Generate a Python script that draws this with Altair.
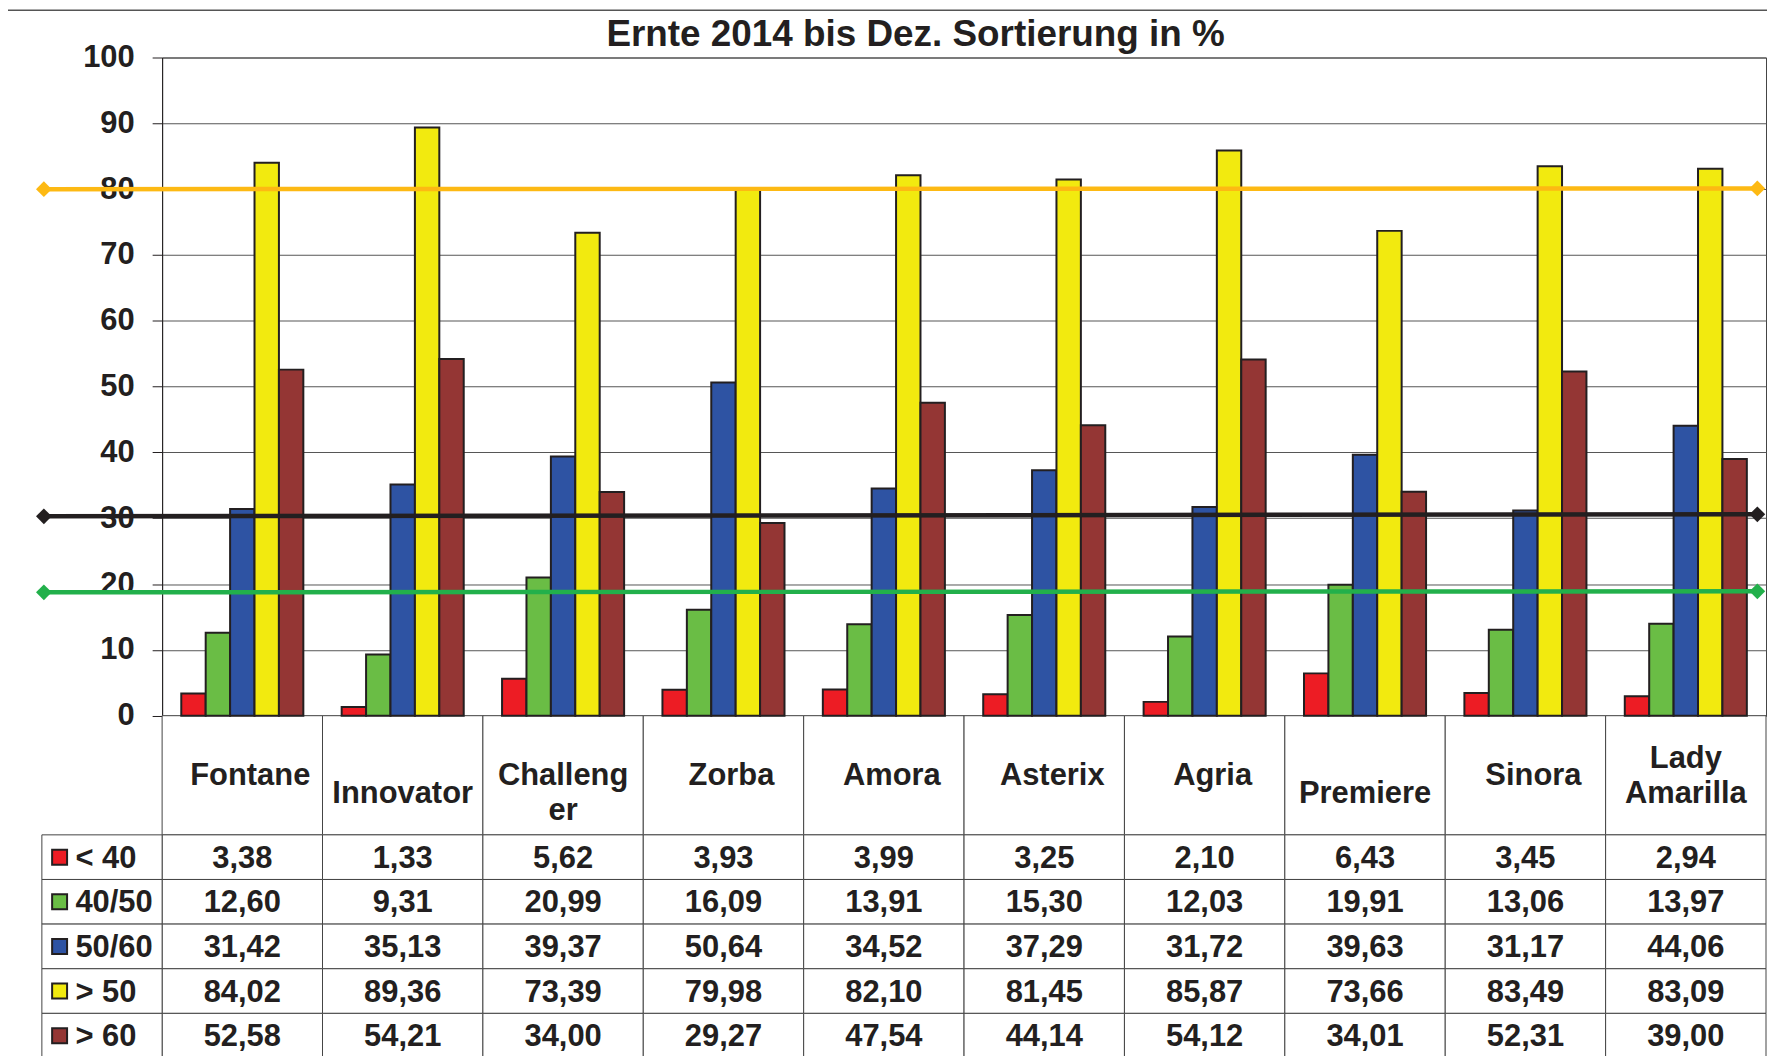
import altair as alt
import pandas as pd

# ---------------- data ----------------
categories = ["Fontane", "Innovator", "Challenger", "Zorba", "Amora",
              "Asterix", "Agria", "Premiere", "Sinora", "Lady Amarilla"]
# header text as wrapped in the table (empty lines included)
header_labels = ["Fontane", "\nInnovator", "\nChalleng\ner", "Zorba", "Amora",
                 "Asterix", "Agria", "\nPremiere", "Sinora", "Lady\nAmarilla"]
series = ["< 40", "40/50", "50/60", "> 50", "> 60"]
series_colors = ["#ed1c24", "#6abd45", "#2e53a3", "#f2ea0f", "#943634"]

v_lt40 = [3.38, 1.33, 5.62, 3.93, 3.99, 3.25, 2.10, 6.43, 3.45, 2.94]
v_40_50 = [12.60, 9.31, 20.99, 16.09, 13.91, 15.30, 12.03, 19.91, 13.06, 13.97]
v_50_60 = [31.42, 35.13, 39.37, 50.64, 34.52, 37.29, 31.72, 39.63, 31.17, 44.06]
v_gt50 = [84.02, 89.36, 73.39, 79.98, 82.10, 81.45, 85.87, 73.66, 83.49, 83.09]
v_gt60 = [52.58, 54.21, 34.00, 29.27, 47.54, 44.14, 54.12, 34.01, 52.31, 39.00]
series_values = [v_lt40, v_40_50, v_50_60, v_gt50, v_gt60]

ref_names = ["Linie 80", "Linie 30", "Linie 19"]
ref_left = [80.0, 30.3, 18.75]
ref_right = [80.1, 30.6, 18.9]
ref_colors = ["#fdb913", "#231f20", "#22b04b"]

title_text = "Ernte 2014 bis Dez. Sortierung in %"
y_ticks = [0, 10, 20, 30, 40, 50, 60, 70, 80, 90, 100]

# ---------------- tables ----------------
rows = []
for s, vals in zip(series, series_values):
    for c, v in zip(categories, vals):
        rows.append({"Sorte": c, "Sortierung": s, "Wert": v,
                     "Text": f"{v:.2f}".replace(".", ",")})
bars_df = pd.DataFrame(rows)

head_rows = []
for c, lab in zip(categories, header_labels):
    lines = lab.split("\n")
    n = len(lines)
    for i, t in enumerate(lines):
        if t:
            head_rows.append({"Sorte": c, "Zeile": t, "Slot": i - (n - 1) / 2,
                              "Einzeilig": n == 1})
header_df = pd.DataFrame(head_rows)
cat_df = pd.DataFrame({"Sorte": categories})
legend_df = pd.DataFrame({"Sortierung": series})
ref_rows = []
for n_, a, b in zip(ref_names, ref_left, ref_right):
    ref_rows.append({"Linie": n_, "Ende": "links", "Wert": a})
    ref_rows.append({"Linie": n_, "Ende": "rechts", "Wert": b})
ref_df = pd.DataFrame(ref_rows)

# ---------------- layout ----------------
W = 1610
H = 660.7
HEAD = 119.6
ROW = 44.8
LH = 35
FONT = "Liberation Sans"
DARK = "#231f20"
GRID = "#444444"

x_bar = alt.X("Sorte:N", sort=categories,
              scale=alt.Scale(domain=categories, paddingInner=0.239, paddingOuter=0.1195),
              axis=None)
x_tab = alt.X("Sorte:N", sort=categories,
              scale=alt.Scale(domain=categories, paddingInner=0, paddingOuter=0),
              axis=None)
y_row = alt.Y("Sortierung:N", sort=series,
              scale=alt.Scale(domain=series, range=[H + HEAD, H + HEAD + 5 * ROW],
                              paddingInner=0, paddingOuter=0),
              axis=None)
y_head = alt.Y("Slot:Q", scale=alt.Scale(domain=[-1, 1],
                                         range=[H + HEAD / 2 - LH, H + HEAD / 2 + LH]),
               axis=None)
series_color = alt.Color("Sortierung:N",
                         scale=alt.Scale(domain=series, range=series_colors),
                         legend=None)

frame = alt.Chart(pd.DataFrame({"r": [0]})).mark_rect(
    fill="transparent", stroke="#555555", strokeWidth=1.5
).encode(x=alt.value(-155.7), x2=alt.value(W + 40),
         y=alt.value(-47.4), y2=alt.value(H + 500))

header_cells = alt.Chart(cat_df).mark_rect(
    fill="white", stroke=GRID, strokeWidth=1
).encode(x=x_tab, y=alt.value(H), y2=alt.value(H + HEAD))

value_cells = alt.Chart(bars_df).mark_rect(
    fill="white", stroke=GRID, strokeWidth=1
).encode(x=x_tab, y=y_row)

legend_cells = alt.Chart(legend_df).mark_rect(
    fill="white", stroke=GRID, strokeWidth=1
).encode(x=alt.value(-120.7), x2=alt.value(0), y=y_row)

bars = alt.Chart(bars_df).mark_bar(stroke=DARK, strokeWidth=2).encode(
    x=x_bar,
    xOffset=alt.XOffset("Sortierung:N", sort=series,
                        scale=alt.Scale(domain=series, paddingInner=0, paddingOuter=0)),
    y=alt.Y("Wert:Q", scale=alt.Scale(domain=[0, 100], nice=False),
            axis=alt.Axis(values=y_ticks, title=None, grid=True, gridColor="#555555",
                          gridWidth=1, labelFont=FONT, labelFontSize=31,
                          labelFontWeight="bold", labelColor=DARK, labelPadding=18,
                          tickSize=10, tickColor=DARK, domainColor=DARK,
                          labelFlush=False)),
    color=series_color,
)

text_style = dict(font=FONT, fontSize=31, fontWeight="bold", color=DARK)

header_single = alt.Chart(header_df).transform_filter(
    "datum.Einzeilig"
).mark_text(baseline="middle", dx=8, dy=1, **text_style).encode(
    x=x_tab, y=y_head, text="Zeile:N")

header_multi = alt.Chart(header_df).transform_filter(
    "!datum.Einzeilig"
).mark_text(baseline="middle", dy=1, **text_style).encode(
    x=x_tab, y=y_head, text="Zeile:N")

value_text = alt.Chart(bars_df).mark_text(baseline="middle", dy=1.5, **text_style).encode(
    x=x_tab, y=y_row, text="Text:N")

legend_swatch = alt.Chart(legend_df).mark_square(
    size=225, stroke=DARK, strokeWidth=2, opacity=1
).encode(x=alt.value(-102.9), y=y_row, color=series_color)

legend_text = alt.Chart(legend_df).mark_text(
    align="left", baseline="middle", dy=1.5, **text_style
).encode(x=alt.value(-87), y=y_row, text="Sortierung:N")

x_ref = alt.X("Ende:N", scale=alt.Scale(type="point", domain=["links", "rechts"],
                                        range=[-118.7, 1601.3], padding=0), axis=None)
y_ref = alt.Y("Wert:Q", scale=alt.Scale(domain=[0, 100], nice=False), axis=None)
ref_color = alt.Color("Linie:N", scale=alt.Scale(domain=ref_names, range=ref_colors),
                      legend=None)

ref_lines = alt.Chart(ref_df).mark_line(strokeWidth=4.5).encode(
    x=x_ref, y=y_ref, color=ref_color, detail="Linie:N")
ref_points = alt.Chart(ref_df).mark_point(
    shape="diamond", filled=True, size=250, opacity=1
).encode(x=x_ref, y=y_ref, color=ref_color)

title = alt.Chart(pd.DataFrame({"Titel": [title_text]})).mark_text(
    align="center", baseline="alphabetic", font=FONT, fontSize=37,
    fontWeight="bold", color=DARK
).encode(x=alt.value(756.3), y=alt.value(-11.4), text="Titel:N")

chart = alt.layer(
    frame, header_cells, value_cells, legend_cells, bars,
    header_single, header_multi, value_text, legend_swatch, legend_text,
    ref_lines, ref_points, title
).resolve_scale(
    x="independent", y="independent", color="independent"
).properties(
    width=W, height=H,
    autosize=alt.AutoSizeParams(type="none"),
    padding={"left": 154.7, "top": 47.7, "right": 1, "bottom": 339.6},
    background="white",
).configure_view(stroke="#444444", strokeWidth=1)

chart.save("out.html", embed_options={"renderer": "svg", "actions": False})
